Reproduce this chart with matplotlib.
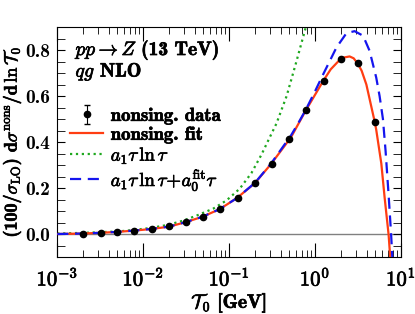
import numpy as np
import matplotlib as mpl
mpl.use('Agg')
import matplotlib.pyplot as plt
import matplotlib.patheffects as pe
from matplotlib.ticker import LogLocator, MultipleLocator, FormatStrFormatter, FuncFormatter

plt.rcParams['font.family'] = 'serif'
plt.rcParams['font.serif'] = ['cmb10']
plt.rcParams['mathtext.fontset'] = 'cm'
plt.rcParams['axes.formatter.use_mathtext'] = True
plt.rcParams['font.size'] = 13

# data points
tau_data = [0.002, 0.0032, 0.005, 0.0079, 0.0126, 0.02, 0.0316, 0.05, 0.079,
            0.126, 0.2, 0.316, 0.5, 0.79, 1.26, 2.0, 3.16, 5.0]
sig_data = [0.002, 0.005, 0.009, 0.014, 0.022, 0.033, 0.051, 0.074, 0.11,
            0.156, 0.22, 0.305, 0.412, 0.538, 0.667, 0.759, 0.744, 0.488]
err_data = [0.001] * len(tau_data)

# curves, read as (log10 T0, value)
fit_lx = [-3.0, -2.709, -2.51, -2.31, -2.10, -1.90, -1.70, -1.51, -1.31, -1.11,
          -0.91, -0.70, -0.51, -0.28, -0.106, 0.095, 0.183, 0.295, 0.345, 0.403,
          0.45, 0.496, 0.543, 0.598, 0.694, 0.713, 0.772, 0.810, 0.857, 0.877]
fit_y = [0.0, 0.002, 0.005, 0.009, 0.015, 0.022, 0.032, 0.051, 0.075, 0.108,
         0.156, 0.221, 0.305, 0.42, 0.538, 0.665, 0.716, 0.760, 0.768, 0.772,
         0.764, 0.742, 0.71, 0.650, 0.49, 0.453, 0.307, 0.161, -0.003, -0.108]

a1_lx = [-3.0, -2.7, -2.294, -2.096, -1.902, -1.709, -1.535, -1.379, -1.186,
         -1.030, -0.876, -0.74, -0.623, -0.527, -0.449, -0.33, -0.22, -0.106]
a1_y = [0.002, 0.005, 0.011, 0.018, 0.027, 0.040, 0.058, 0.080, 0.110,
        0.146, 0.197, 0.265, 0.345, 0.42, 0.48, 0.60, 0.745, 0.90]

a10_lx = [-3.0, -2.709, -2.51, -2.31, -2.10, -1.90, -1.70, -1.51, -1.31, -1.11,
          -0.91, -0.70, -0.51, -0.28, -0.19, -0.106, 0.0, 0.095, 0.25, 0.366,
          0.461, 0.56, 0.635, 0.713, 0.752, 0.791, 0.822, 0.857, 0.886, 0.90]
a10_y = [0.0, 0.002, 0.005, 0.009, 0.015, 0.022, 0.032, 0.051, 0.075, 0.108,
         0.156, 0.222, 0.307, 0.428, 0.485, 0.541, 0.62, 0.694, 0.811, 0.873,
         0.882, 0.862, 0.797, 0.68, 0.60, 0.50, 0.36, 0.17, 0.0, -0.1]

fig = plt.figure(figsize=(4.15, 3.14), dpi=100)
ax = fig.add_axes([0.138, 0.1815, 0.828, 0.7325])

ax.axhline(0.0, color='#808080', lw=1.0, zorder=1)
h_data = ax.errorbar(tau_data, sig_data, yerr=err_data, fmt='o', color='black', ms=4.5,
                     elinewidth=0.8, capsize=2, zorder=5)
h_fit, = ax.plot(10 ** np.array(fit_lx), fit_y, '-', color='#ff3d12', lw=1.6, zorder=3)
h_a1, = ax.plot(10 ** np.array(a1_lx), a1_y, ':', color='#1fa81f', lw=1.6, zorder=2)
h_a10, = ax.plot(10 ** np.array(a10_lx), a10_y, '--', color='#1515ee', lw=1.6, zorder=4,
                 dashes=(5, 3))

ax.set_xscale('log')
ax.set_xlim(1e-3, 1e1)
ax.set_ylim(-0.1, 0.9)
ax.xaxis.set_major_locator(LogLocator(base=10, numticks=10))
ax.xaxis.set_minor_locator(LogLocator(base=10, subs=np.arange(2, 10), numticks=10))
ax.xaxis.set_major_formatter(FuncFormatter(lambda v, pos: r'$10^{%d}$' % round(np.log10(v))))
ax.yaxis.set_major_locator(MultipleLocator(0.2))
ax.yaxis.set_minor_locator(MultipleLocator(0.05))
ax.yaxis.set_major_formatter(FormatStrFormatter('%.1f'))
ax.tick_params(which='both', direction='in', top=True, right=True)
ax.tick_params(axis='x', which='major', length=10, pad=6, labelsize=15)
ax.tick_params(axis='x', which='minor', length=5)
ax.tick_params(axis='y', which='both', length=6, pad=5, labelsize=14)

ax.set_xlabel(r'$\mathcal{T}_0$ [GeV]', fontsize=14, labelpad=1)
ax.set_ylabel(r'(100/$\sigma_{\rm LO}$) d$\sigma^{\rm nons}$/d$\,\ln\mathcal{T}_0$',
              fontsize=13, labelpad=2)

t1 = ax.text(0.053, 0.90, r'$pp \to Z$ (13 TeV)', transform=ax.transAxes,
             va='center', ha='left', fontsize=14)
t2 = ax.text(0.053, 0.806, r'$qg$ NLO', transform=ax.transAxes,
             va='center', ha='left', fontsize=14)

leg = ax.legend([h_data, h_fit, h_a1, h_a10],
                ['nonsing. data', 'nonsing. fit', r'$a_1\tau\,\ln\tau$',
                 r'$a_1\tau\,\ln\tau\!+\!a_0^{\rm fit}\tau$'],
                loc='upper left', bbox_to_anchor=(0.0, 0.71), frameon=False,
                fontsize=13.5, handlelength=1.75, handletextpad=0.4, labelspacing=0.05,
                borderaxespad=0.3)

fig.canvas.draw()
stroke = [pe.withStroke(linewidth=0.5, foreground='black')]
texts = [t1, t2, ax.xaxis.label, ax.yaxis.label] + leg.get_texts()
texts += ax.get_xticklabels()
for t in texts:
    t.set_path_effects(stroke)

fig.savefig('out.png', dpi=100)
